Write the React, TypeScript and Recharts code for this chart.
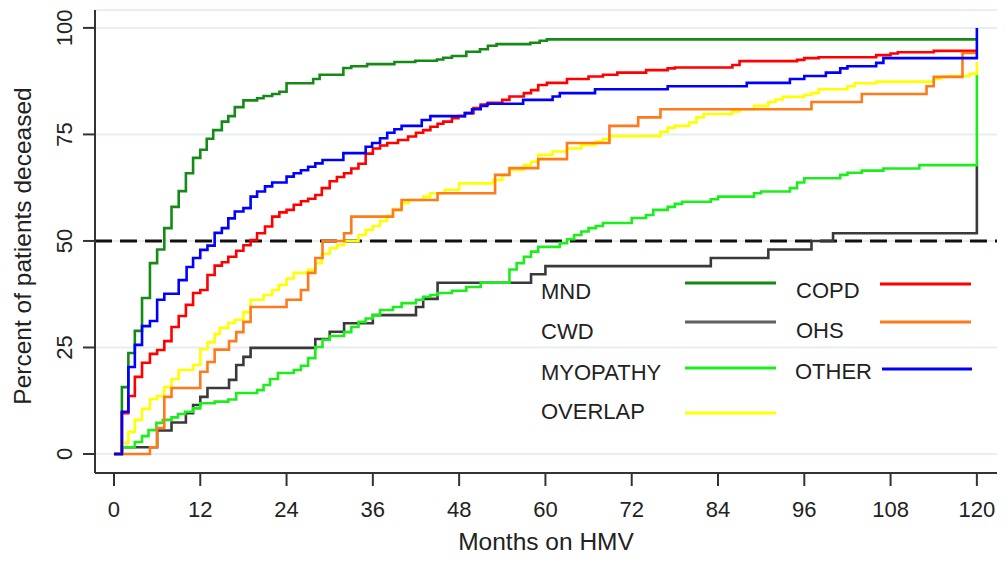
import React from 'react';
import { LineChart, Line, XAxis, YAxis, CartesianGrid, ReferenceLine } from 'recharts';

const FONT = '"Liberation Sans", Arial, Helvetica, sans-serif';

const X_TICKS = [0, 12, 24, 36, 48, 60, 72, 84, 96, 108, 120];
const Y_TICKS = [0, 25, 50, 75, 100];

// [months, percent deceased] — step points
const MND: [number, number][] = [
  [0, 0], [1.1, 15.7], [2, 23.7], [2.9, 28.9], [3.9, 36.6], [5, 44.8], [6, 48], [7, 53],
  [8, 58], [9, 61.7], [10, 65.9], [11, 69.5], [12, 71.4], [12.9, 74], [13.8, 76], [15, 78],
  [15.9, 79.3], [16.8, 81.4], [18, 83], [19.9, 83.5], [20.8, 84], [22, 84.5], [23, 85],
  [24, 87], [27.7, 88], [28.6, 89], [31.9, 90.6], [33, 91], [35.2, 91.5], [39, 92],
  [41.9, 92.3], [44.9, 92.6], [45.8, 93], [47, 93.4], [49, 94.4], [50.9, 95], [52, 95.8],
  [53.2, 96.2], [57.9, 96.5], [59.2, 97], [60.2, 97.3], [120, 97.3],
];

const CWD: [number, number][] = [
  [0, 0], [1.1, 1.6], [6, 5.5], [8, 7.4], [10, 9.6], [11, 11.5], [12, 13.4], [13, 15.5],
  [16, 17.4], [17, 20.9], [18, 22.8], [19, 24.9], [28, 27], [30, 28.7], [32, 30.7],
  [36, 32.6], [42, 34.5], [43, 36.4], [45, 40.2], [58, 42.2], [60, 44.1], [83, 46],
  [91, 48], [97, 50], [100, 51.8], [120, 68],
];

const MYOPATHY: [number, number][] = [
  [0, 0], [1.1, 1.6], [2.9, 2.8], [3.9, 4.2], [4.8, 5.6], [5.9, 7.3], [6.8, 8], [8, 8.6],
  [8.9, 9.4], [9.9, 9.9], [11, 10.7], [12, 11.9], [14, 12.3], [15.9, 12.8], [17, 14.3],
  [19.9, 15], [20.8, 16.2], [21.7, 17.6], [22.8, 19], [25, 19.7], [26, 20.7], [27, 22.5],
  [28, 25.1], [29, 26.8], [30, 27.7], [32, 28.6], [33, 29.8], [34, 31], [35, 31.8],
  [36, 32.6], [37, 33.8], [38.8, 34.5], [40, 35.4], [42, 36.2], [43, 36.9], [44, 37.3],
  [45, 37.8], [47, 38.3], [49, 39.2], [51, 40.2], [55, 43.3], [56, 44.8], [57, 46.3],
  [58, 47.5], [59, 48.6], [62, 49.5], [63, 50.4], [64, 51.4], [65, 52.2], [66, 53],
  [67, 53.5], [68, 54.2], [72, 55.4], [74, 56.1], [75, 57.3], [77, 58], [78, 58.7],
  [79, 59.2], [83, 59.8], [84, 60.4], [89, 61.2], [90, 61.6], [94, 62.4], [95, 63.7],
  [96, 64.7], [101, 65.5], [102, 66], [104, 66.5], [107, 67], [112, 67.8], [120, 89],
];

const OVERLAP: [number, number][] = [
  [0, 0], [1.1, 2.6], [2, 5.2], [2.9, 8], [3.9, 10.6], [5, 12.9], [6, 13.6], [7, 15.7],
  [8, 17.6], [9, 19.7], [11, 20.9], [12, 24.6], [13, 26.2], [14, 28.2], [14.7, 29.6],
  [15.9, 30.8], [16.8, 31.5], [18, 33.3], [19, 36.2], [20.8, 37.3], [22, 38.5],
  [22.9, 39.7], [24, 41.2], [25, 42.5], [27, 43.2], [28, 44.8], [28.9, 47], [30, 48.3],
  [31, 49], [32, 50], [34, 51.4], [35, 52.6], [36, 53.5], [37, 54.7], [38, 55.9],
  [38.8, 57.5], [40, 58.9], [41, 59.6], [43, 60.4], [44, 61.2], [46, 62], [48, 63.5],
  [52.7, 64.3], [54, 65.5], [55, 66.7], [57, 67.8], [58, 68.6], [59, 70.2], [61, 71],
  [63, 71.7], [65, 72.5], [67, 73.3], [68, 73.9], [69, 74.6], [76, 75.6], [77, 76.6],
  [78, 77], [80, 77.8], [81, 79], [82, 79.8], [86, 80.4], [87, 80.9], [89, 81.7],
  [91, 82.6], [92, 83.2], [93, 83.8], [96, 84.3], [97, 84.7], [98, 85.6], [102, 86.3],
  [103, 87], [106, 87.4], [114, 88], [115, 88.5], [116, 88.7], [119, 89.2], [120, 92],
];

const COPD: [number, number][] = [
  [0, 0], [1.1, 9.6], [2, 13.6], [2.9, 18.1], [3.9, 21.4], [5, 23.5], [6, 24.4], [7, 26.5],
  [8, 29.8], [9, 32.4], [10, 35], [11, 37.8], [12, 38.5], [13, 42], [14, 44.2], [15, 45],
  [15.9, 46.3], [17, 47.7], [18, 49], [19, 50.2], [19.9, 51.8], [21, 53.4], [22, 55.7],
  [23, 56.7], [24, 57.3], [25, 58.5], [26, 59.3], [27, 59.9], [28, 60.8], [28.9, 62.4],
  [30, 64], [31, 65], [32, 65.9], [33, 67], [34, 68.1], [35, 70.5], [36, 71.7], [37, 72.4],
  [38, 73], [39.5, 73.7], [40.9, 74.5], [42, 75.4], [43, 76], [44, 76.8], [45, 77.5],
  [45.8, 78], [47, 78.8], [47.9, 79.3], [48.8, 80], [50, 81.2], [51, 82], [52, 82.4],
  [54, 83.1], [55, 83.9], [57, 84.7], [58, 85.4], [59, 86.6], [60.2, 87.1], [63, 88],
  [66, 88.6], [68, 89], [70, 89.5], [74, 90.1], [77, 90.5], [78, 90.7], [86, 91.3],
  [87, 92.2], [95, 92.5], [96, 92.9], [98, 93.1], [106, 93.6], [108, 94], [109, 94.3],
  [114, 94.6], [120, 94.6],
];

const OHS: [number, number][] = [
  [0, 0], [5, 1.6], [6, 6.1], [7, 13.4], [8, 15.5], [12, 19.3], [13, 21.6], [14, 24.5],
  [16, 26.5], [17, 28.6], [18, 31], [19, 34.5], [24, 36.2], [26, 38.5], [27, 42.5],
  [28, 46], [29, 50], [32, 51.8], [33, 55.7], [38.8, 57.3], [40, 59.6], [45, 61.2],
  [53, 65.5], [55, 67.1], [59, 69.2], [63, 73], [68.9, 77], [72.9, 79], [76, 80.9],
  [97, 82.6], [104, 84.5], [113, 86.3], [114, 88.5], [118, 94.1], [120, 94.1],
];

const OTHER: [number, number][] = [
  [0, 0], [1.1, 9.9], [2, 20.4], [2.9, 25.6], [3.9, 30], [5, 31.2], [6, 36.2], [7, 37.6],
  [9, 40.8], [10.1, 43.9], [11, 46], [12, 47.9], [13, 48.9], [14, 51.9], [15, 53],
  [15.9, 55.3], [16.8, 56.9], [18, 57.7], [19, 60.4], [19.9, 61.6], [21, 62.8], [22, 63.7],
  [24, 65.1], [25, 65.9], [26, 66.6], [27, 67.4], [28, 68.2], [29, 69], [31.9, 70.6],
  [35, 72.1], [35.9, 73], [37, 74.1], [38, 75.4], [39, 76.2], [40, 77], [42.8, 78.4],
  [44, 79.3], [48.8, 80], [49.8, 80.9], [51, 81.7], [51.9, 82.2], [56.9, 83.1], [61, 83.9],
  [62, 84.7], [66.9, 85.6], [77, 86.3], [88, 87.1], [94, 88], [96, 88.7], [99, 89.5],
  [101, 90.5], [102, 91], [106, 91.8], [107, 92.9], [120, 100],
];

const SERIES = [
  { name: 'MND', color: '#168a16', key: '#118811', points: MND },
  { name: 'CWD', color: '#3a3a3a', key: '#606060', points: CWD },
  { name: 'MYOPATHY', color: '#1cee1c', key: '#1cee1c', points: MYOPATHY },
  { name: 'OVERLAP', color: '#ffff00', key: '#ffff00', points: OVERLAP },
  { name: 'COPD', color: '#ff0000', key: '#ff0000', points: COPD },
  { name: 'OHS', color: '#ff7a1a', key: '#ff7a1a', points: OHS },
  { name: 'OTHER', color: '#0000ff', key: '#0000ff', points: OTHER },
];

// legend slots: text baseline and key-line y for each entry (two columns)
const LEGEND_SLOTS = [
  { tx: 533, ty: 291, lx1: 677, lx2: 768, ly: 275 },
  { tx: 533, ty: 331, lx1: 677, lx2: 768, ly: 314 },
  { tx: 533, ty: 372, lx1: 677, lx2: 768, ly: 360 },
  { tx: 533, ty: 411, lx1: 677, lx2: 768, ly: 405 },
  { tx: 788, ty: 290, lx1: 872, lx2: 963, ly: 276 },
  { tx: 788, ty: 330, lx1: 872, lx2: 963, ly: 314 },
  { tx: 787, ty: 371, lx1: 874, lx2: 964, ly: 361 },
];

const XTick = (props: any) => {
  const { x, y, payload } = props;
  return (
    <text x={x} y={y + 31} textAnchor="middle" fontFamily={FONT} fontSize={22} fill="#222">
      {payload.value}
    </text>
  );
};

const YTick = (props: any) => {
  const { x, y, payload } = props;
  const bx = x - 11;
  return (
    <text
      x={bx}
      y={y}
      transform={`rotate(-90, ${bx}, ${y})`}
      textAnchor="middle"
      fontFamily={FONT}
      fontSize={22}
      fill="#222"
    >
      {payload.value}
    </text>
  );
};

export default function App() {
  return (
    <div style={{ position: 'relative', width: 990, height: 553 }}>
      <LineChart width={990} height={553} margin={{ top: 2, right: 1, left: 27, bottom: 8 }}>
        <CartesianGrid vertical={false} stroke="#e6eef0" strokeWidth={2} />
        <XAxis
          type="number"
          dataKey="t"
          domain={[-2.64, 122.8]}
          allowDataOverflow
          ticks={X_TICKS}
          interval={0}
          height={80}
          tickSize={13}
          tickMargin={0}
          tick={<XTick />}
          stroke="#333"
          strokeWidth={2}
          tickLine={{ stroke: '#333', strokeWidth: 2 }}
        />
        <YAxis
          type="number"
          domain={[-4.46, 104.2]}
          allowDataOverflow
          ticks={Y_TICKS}
          interval={0}
          width={60}
          tickSize={12}
          tickMargin={0}
          tick={<YTick />}
          stroke="#333"
          strokeWidth={2}
          tickLine={{ stroke: '#333', strokeWidth: 2 }}
        />
        <ReferenceLine y={50} stroke="#111" strokeWidth={3} strokeDasharray="17 8" />
        {SERIES.map((s) => (
          <Line
            key={s.name}
            name={s.name}
            data={s.points.map(([t, p]) => ({ t, p }))}
            dataKey="p"
            type="stepAfter"
            stroke={s.color}
            strokeWidth={2.6}
            dot={false}
            activeDot={false}
            isAnimationActive={false}
          />
        ))}
      </LineChart>
      <svg
        width={990}
        height={553}
        style={{ position: 'absolute', left: 0, top: 0, pointerEvents: 'none' }}
      >
        <text
          x={23}
          y={238}
          transform="rotate(-90, 23, 238)"
          textAnchor="middle"
          fontFamily={FONT}
          fontSize={24.5}
          fill="#222"
        >
          Percent of patients deceased
        </text>
        <text x={538} y={542} textAnchor="middle" fontFamily={FONT} fontSize={24.5} fill="#222">
          Months on HMV
        </text>
        {SERIES.map((s, i) => {
          const slot = LEGEND_SLOTS[i];
          return (
            <g key={s.name}>
              <text x={slot.tx} y={slot.ty} fontFamily={FONT} fontSize={22} fill="#222">
                {s.name}
              </text>
              <line x1={slot.lx1} x2={slot.lx2} y1={slot.ly} y2={slot.ly} stroke={s.key} strokeWidth={3} />
            </g>
          );
        })}
      </svg>
    </div>
  );
}
